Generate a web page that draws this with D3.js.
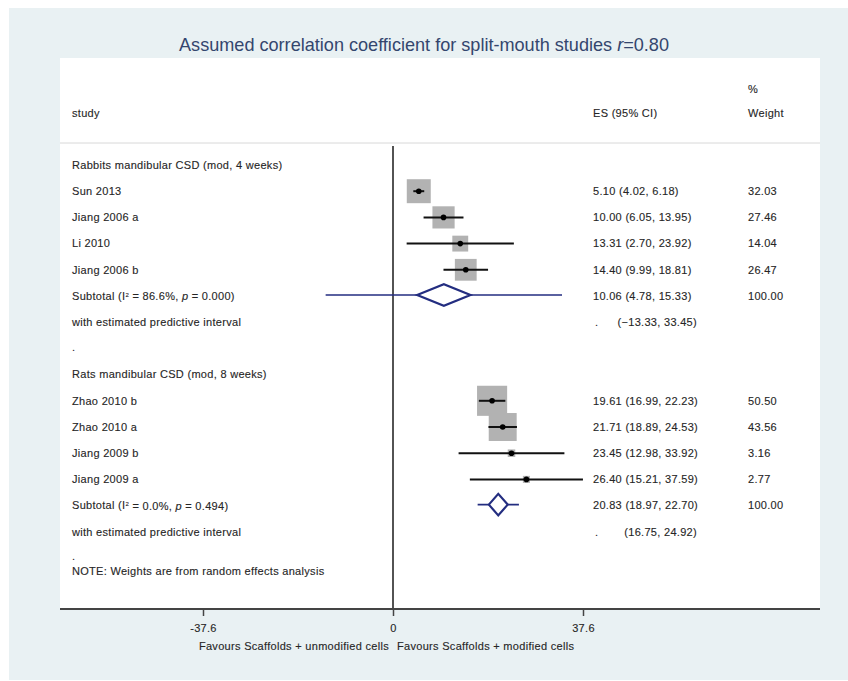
<!DOCTYPE html>
<html>
<head>
<meta charset="utf-8">
<script src="https://cdn.jsdelivr.net/npm/d3@7"></script>
<style>
html,body{margin:0;padding:0;background:#fff;}
svg text{font-family:"Liberation Sans",Arial,sans-serif;}
</style>
</head>
<body>
<svg id="chart" width="848" height="681"></svg>
<script>
// ---- data ----
const groupNames = ["Rabbits mandibular CSD (mod, 4 weeks)", "Rats mandibular CSD (mod, 8 weeks)"];
const studies = ["Sun 2013","Jiang 2006 a","Li 2010","Jiang 2006 b","Zhao 2010 b","Zhao 2010 a","Jiang 2009 b","Jiang 2009 a"];
const studyGroup = [0,0,0,0,1,1,1,1];
const es = [5.10,10.00,13.31,14.40,19.61,21.71,23.45,26.40];
const ciLo = [4.02,6.05,2.70,9.99,16.99,18.89,12.98,15.21];
const ciHi = [6.18,13.95,23.92,18.81,22.23,24.53,33.92,37.59];
const weights = [32.03,27.46,14.04,26.47,50.50,43.56,3.16,2.77];
const subES = [10.06,20.83];
const subLo = [4.78,18.97];
const subHi = [15.33,22.70];
const predLo = [-13.33,16.75];
const predHi = [33.45,24.92];
const subI2 = ["86.6%","0.0%"];
const subP = ["0.000","0.494"];
const tickValues = [-37.6,0,37.6];
const tickLabels = ["-37.6","0","37.6"];

const fmt = d3.format(".2f");

const svg = d3.select("#chart");
const W = 848, H = 681;
const panel = {x0:60, x1:820, y0:58, y1:609};

// backgrounds
svg.append("rect").attr("x",9).attr("y",8).attr("width",W-9).attr("height",672)
  .attr("fill","#e9f1f3");
svg.append("rect").attr("x",panel.x0).attr("y",panel.y0).attr("width",panel.x1-panel.x0)
  .attr("height",panel.y1-panel.y0).attr("fill","#ffffff");

// title
const title = svg.append("text").attr("x",424).attr("y",51).attr("text-anchor","middle")
  .attr("font-size",18.1).attr("fill","#34466e");
title.append("tspan").text("Assumed correlation coefficient for split-mouth studies ");
title.append("tspan").attr("font-style","italic").text("r");
title.append("tspan").text("=0.80");

// scales
const x = d3.scaleLinear().domain([-37.6,37.6]).range([203,583]);
const rowY = d3.scaleLinear().domain([0,1]).range([165,191.2]);
const boxSide = d3.scaleSqrt().domain([0,50.5]).range([0,30.1]);

const txtColor = "#262626";
const fs = 11;
const ls = 0.3;
const colStudy = 72, colES = 593, colW = 748;

function styleText(sel){
  return sel.attr("font-size",fs).attr("fill",txtColor).attr("letter-spacing",ls)
    .attr("stroke",txtColor).attr("stroke-width",0.12);
}
function label(xp, yp, str, anchor){
  return styleText(svg.append("text").attr("x",xp).attr("y",yp).attr("dy","0.35em"))
    .attr("text-anchor",anchor||"start").text(str);
}

// header
label(colW, 89, "%");
label(colStudy, 113, "study");
label(colES, 113, "ES (95% CI)");
label(colW, 113, "Weight");
svg.append("line").attr("x1",panel.x0).attr("x2",panel.x1).attr("y1",143).attr("y2",143)
  .attr("stroke","#d8d8d8").attr("stroke-width",1);

// zero line
svg.append("line").attr("x1",x(0)).attr("x2",x(0)).attr("y1",146).attr("y2",panel.y1)
  .attr("stroke","#1a1a1a").attr("stroke-width",1.5);

// rows
const gStart = [0,8];
groupNames.forEach((gn, g) => {
  const base = gStart[g];
  label(colStudy, rowY(base), gn);
  const idx = studies.map((s,i)=>i).filter(i=>studyGroup[i]===g);
  idx.forEach((i,k) => {
    const yy = rowY(base+1+k);
    label(colStudy, yy, studies[i]);
    const s = boxSide(weights[i]);
    svg.append("rect").attr("x",x(es[i])-s/2).attr("y",yy-s/2).attr("width",s).attr("height",s)
      .attr("fill","#b2b2b2");
    svg.append("line").attr("x1",x(ciLo[i])).attr("x2",x(ciHi[i])).attr("y1",yy).attr("y2",yy)
      .attr("stroke","#111").attr("stroke-width",2);
    svg.append("circle").attr("cx",x(es[i])).attr("cy",yy).attr("r",2.8).attr("fill","#000");
    label(colES, yy, `${fmt(es[i])} (${fmt(ciLo[i])}, ${fmt(ciHi[i])})`);
    label(colW, yy, fmt(weights[i]));
  });
  const ys = rowY(base+1+idx.length);
  const t = styleText(svg.append("text").attr("x",colStudy).attr("y",ys).attr("dy","0.35em"));
  t.append("tspan").text("Subtotal  (I");
  t.append("tspan").attr("font-size",6).attr("dy","-0.5em").attr("stroke-width",0.1).text("2");
  t.append("tspan").attr("dy","0.32em").text(` = ${subI2[g]}, `);
  t.append("tspan").attr("font-style","italic").text("p");
  t.append("tspan").text(` = ${subP[g]})`);
  // predictive interval line
  svg.append("line").attr("x1",x(predLo[g])).attr("x2",x(predHi[g])).attr("y1",ys-1).attr("y2",ys-1)
    .attr("stroke","#232d80").attr("stroke-width",1.6);
  const dh = 10.8;
  const pts = [[x(subLo[g]),ys-1],[x(subES[g]),ys-1-dh],[x(subHi[g]),ys-1],[x(subES[g]),ys-1+dh]];
  svg.append("polygon").attr("points",pts.map(p=>p.join(",")).join(" "))
    .attr("fill","#fff").attr("stroke","#232d80").attr("stroke-width",2.2).attr("stroke-linejoin","miter");
  label(colES, ys, `${fmt(subES[g])} (${fmt(subLo[g])}, ${fmt(subHi[g])})`);
  label(colW, ys, "100.00");
  const yp = rowY(base+2+idx.length);
  label(colStudy, yp, "with estimated predictive interval");
  label(colES+2, yp, ".");
  label(697, yp, `(${fmt(predLo[g])}, ${fmt(predHi[g])})`, "end");
  label(colStudy, rowY(base+3+idx.length)-1.5, ".");
});

label(colStudy, 571, "NOTE: Weights are from random effects analysis");

// axis
const axisG = svg.append("g").attr("transform",`translate(0,${panel.y1})`);
axisG.append("line").attr("x1",panel.x0).attr("x2",panel.x1).attr("y1",0).attr("y2",0)
  .attr("stroke","#444").attr("stroke-width",2);
const axis = d3.axisBottom(x).tickValues(tickValues).tickFormat((d,i)=>tickLabels[i]).tickSize(7).tickPadding(8);
const ag = axisG.append("g").call(axis);
ag.select(".domain").remove();
ag.selectAll(".tick line").attr("stroke","#444").attr("stroke-width",1.5);
styleText(ag.selectAll(".tick text")).attr("font-family",'"Liberation Sans",Arial,sans-serif');

label(x(0)-4, 646, "Favours Scaffolds + unmodified cells", "end");
label(x(0)+4, 646, "Favours Scaffolds + modified cells", "start");
</script>
</body>
</html>
